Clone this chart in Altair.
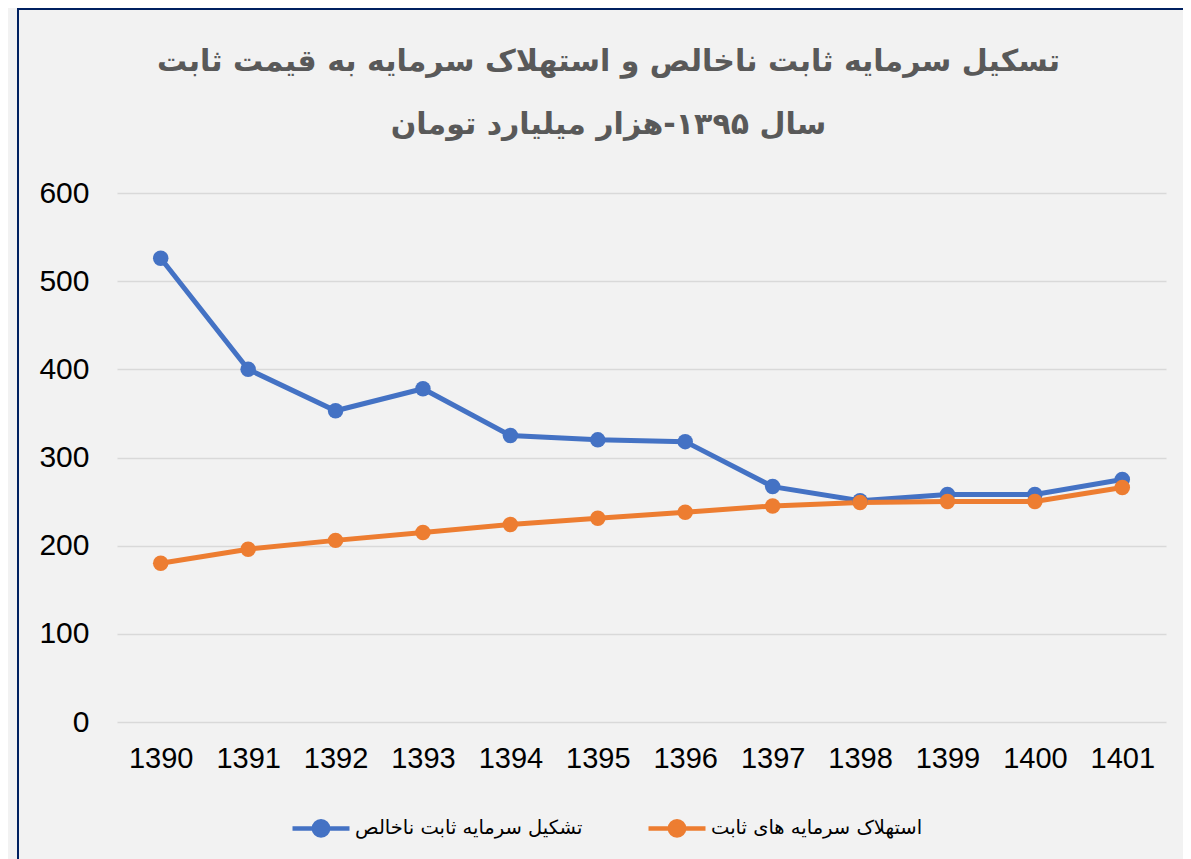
import altair as alt
import pandas as pd

years = ["1390", "1391", "1392", "1393", "1394", "1395", "1396", "1397", "1398", "1399", "1400", "1401"]
gross_formation = [526, 400, 353, 378, 325, 320, 318, 267, 251, 258, 258, 275]
depreciation = [180, 196, 206, 215, 224, 231, 238, 245, 249, 250, 250, 266]
series_names = ["تشکیل سرمایه ثابت ناخالص", "استهلاک سرمایه های ثابت"]
series_colors = ["#4472c4", "#ed7d31"]
y_ticks = [0, 100, 200, 300, 400, 500, 600]
title_lines = ["تسکیل سرمایه ثابت ناخالص و استهلاک سرمایه به قیمت ثابت", "سال ۱۳۹۵-هزار میلیارد تومان"]

rows = []
for i, yr in enumerate(years):
    rows.append({"year": yr, "series": series_names[0], "value": gross_formation[i]})
    rows.append({"year": yr, "series": series_names[1], "value": depreciation[i]})
df = pd.DataFrame(rows)

W, H = 1049, 529
legend_path = "M-1,0L1,0M0.25,0A0.25,0.25,0,1,1,-0.25,0A0.25,0.25,0,1,1,0.25,0Z"

lines = alt.Chart(df).mark_line(
    point=alt.OverlayMarkDef(filled=True, size=240), strokeWidth=5
).encode(
    x=alt.X("year:O", sort=years, scale=alt.Scale(padding=0.5),
            axis=alt.Axis(title=None, labelAngle=0, ticks=False, domain=False,
                          labelFontSize=29, labelColor="#000000", labelFont="Liberation Sans",
                          labelPadding=22)),
    y=alt.Y("value:Q", scale=alt.Scale(domain=[0, 600]),
            axis=alt.Axis(title=None, values=y_ticks, ticks=False, domain=False,
                          labelFontSize=30, labelColor="#000000", labelFont="Liberation Sans",
                          labelPadding=28, gridColor="#d9d9d9", gridWidth=1.5)),
    color=alt.Color("series:N", scale=alt.Scale(domain=series_names, range=series_colors),
                    legend=alt.Legend(title=None, orient="none", legendX=173, legendY=604,
                                      direction="horizontal", symbolType=legend_path,
                                      symbolSize=3249, symbolStrokeWidth=4.5,
                                      labelFontSize=19.5, labelFont="DejaVu Sans",
                                      labelColor="#000000", labelLimit=400,
                                      columnPadding=56, labelOffset=3)),
    order="year:O",
)

border_data = alt.Data(values=[{"k": 1}])
left_border = alt.Chart(border_data).mark_rule(color="#002060", strokeWidth=2).encode(
    x=alt.value(-99), y=alt.value(-186), y2=alt.value(H + 200)
)
top_border = alt.Chart(border_data).mark_rule(color="#002060", strokeWidth=2).encode(
    x=alt.value(-100), x2=alt.value(W + 100), y=alt.value(-184)
)

chart = alt.layer(lines, left_border, top_border).properties(
    width=W, height=H,
    autosize=alt.AutoSizeParams(type="none"),
    padding={"left": 109, "top": 185, "right": 17, "bottom": 137},
    title=alt.TitleParams(text=title_lines, fontSize=30, fontWeight="bold",
                          font="DejaVu Sans", color="#595959", anchor="middle",
                          lineHeight=63, offset=50, dx=-33, dy=184),
).configure(background="#f2f2f2").configure_view(stroke=None)

chart.save("out.html", embed_options={"renderer": "svg", "actions": False})
